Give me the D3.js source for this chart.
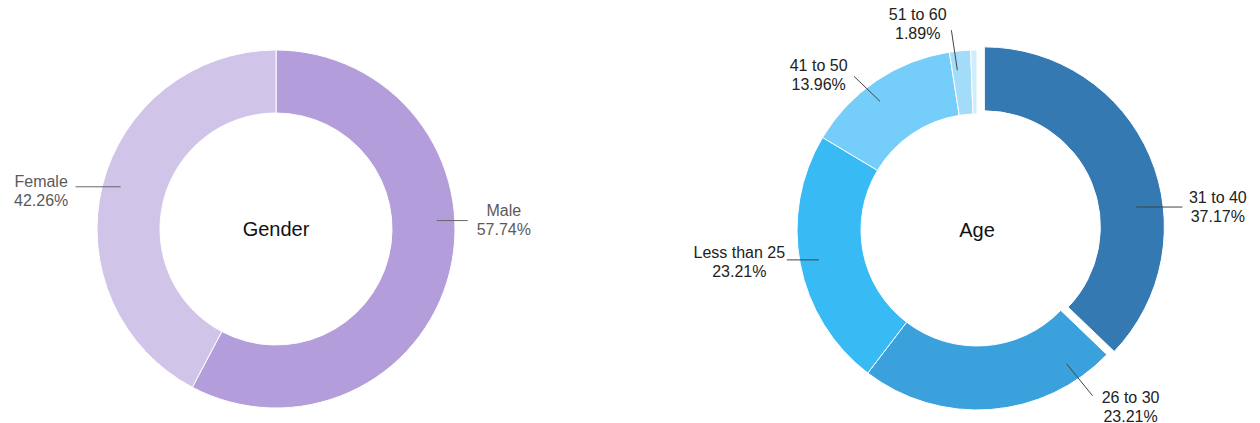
<!DOCTYPE html>
<html>
<head>
<meta charset="utf-8">
<script src="https://cdn.jsdelivr.net/npm/d3@7"></script>
<style>
  html, body { margin: 0; padding: 0; background: #fff; overflow: hidden; }
  svg { display: block; }
  text { font-family: "Liberation Sans", Arial, sans-serif; }
</style>
</head>
<body>
<svg id="canvas"></svg>
<script>
"use strict";

// data
const genderCategories = ["Male", "Female"];
const genderValues = [57.74, 42.26];
const genderColors = ["#b39ddb", "#d1c4e9"];

const ageCategories = ["31 to 40", "26 to 30", "Less than 25", "41 to 50", "51 to 60", "Above 60"];
const ageValues = [37.17, 23.21, 23.21, 13.96, 1.89, 0.56];
const ageColors = ["#3479b1", "#3aa1dc", "#38bbf4", "#74cef9", "#a3dcf9", "#cfeefd"];

const width = 1260;
const height = 423;
const outerRadius = 179;
const innerRadius = 116;
const anchorRadius = 161;
const lineHeight = 19;

const canvas = d3.select("#canvas").attr("width", width).attr("height", height);

// label layout: anchor angle on the ring (deg), leader vector, text offset from leader end
const genderLayout = {
  "Male":   { angle: 87,    lead: [31, 0],  text: [36, -4.5] },
  "Female": { angle: 285.2, lead: [-45, 0], text: [-34.5, 0.5] },
};
const ageLayout = {
  "31 to 40":     { angle: 81.8,  lead: [46, 0],    text: [35.5, -4.3] },
  "26 to 30":     { angle: 146.2, lead: [26, 32],   text: [38, 7] },
  "Less than 25": { angle: 259.3, lead: [-32, 0],   text: [-47.5, -2.3] },
  "41 to 50":     { angle: 323,   lead: [-26, -25], text: [-35.5, -5] },
  "51 to 60":     { angle: 353,   lead: [-6, -40],  text: [-33.7, -10] },
};

const drawDonut = (opts) => {
  const total = d3.sum(opts.values);
  const items = opts.categories.map((c, i) => ({ name: c, value: opts.values[i] }));

  const color = d3.scaleOrdinal().domain(opts.categories).range(opts.colors);
  const pie = d3.pie().sort(null).value((d) => d.value);
  const arc = d3.arc().innerRadius(innerRadius).outerRadius(opts.outer);

  const g = canvas.append("g").attr("transform", `translate(${opts.cx},${opts.cy})`);

  g.selectAll("path")
    .data(pie(items))
    .enter()
    .append("path")
    .attr("d", arc)
    .attr("fill", (d) => color(d.data.name))
    .attr("stroke", "#fff")
    .attr("stroke-width", 1)
    .attr("transform", (d) => {
      const off = opts.explode[d.data.name] || 0;
      const mid = (d.startAngle + d.endAngle) / 2;
      return `translate(${off * Math.sin(mid)},${-off * Math.cos(mid)})`;
    });

  g.append("text")
    .attr("text-anchor", "middle")
    .attr("y", 7)
    .attr("font-size", 20)
    .attr("fill", "#111")
    .text(opts.title);

  const labelled = pie(items).filter((d) => opts.layout[d.data.name]);
  labelled.forEach((d) => {
    const lay = opts.layout[d.data.name];
    const a = (lay.angle * Math.PI) / 180;
    const x0 = anchorRadius * Math.sin(a);
    const y0 = -anchorRadius * Math.cos(a);
    const x1 = x0 + lay.lead[0];
    const y1 = y0 + lay.lead[1];

    g.append("line")
      .attr("x1", x0).attr("y1", y0)
      .attr("x2", x1).attr("y2", y1)
      .attr("stroke", opts.lineColor)
      .attr("stroke-width", 1);

    const t = g.append("text")
      .attr("text-anchor", "middle")
      .attr("font-size", 16)
      .attr("fill", opts.textColor)
      .attr("x", x1 + lay.text[0])
      .attr("y", y1 + lay.text[1]);
    t.append("tspan").attr("x", x1 + lay.text[0]).text(d.data.name);
    t.append("tspan")
      .attr("x", x1 + lay.text[0])
      .attr("dy", lineHeight)
      .text(((d.data.value / total) * 100).toFixed(2) + "%");
  });
};

drawDonut({
  cx: 276, cy: 229, outer: outerRadius,
  title: "Gender",
  categories: genderCategories, values: genderValues, colors: genderColors,
  layout: genderLayout, explode: {},
  textColor: "#5a5a5a", lineColor: "#666",
});

drawDonut({
  cx: 977, cy: 230, outer: 180,
  title: "Age",
  categories: ageCategories, values: ageValues, colors: ageColors,
  layout: ageLayout, explode: { "31 to 40": 8 },
  textColor: "#222", lineColor: "#444",
});
</script>
</body>
</html>
